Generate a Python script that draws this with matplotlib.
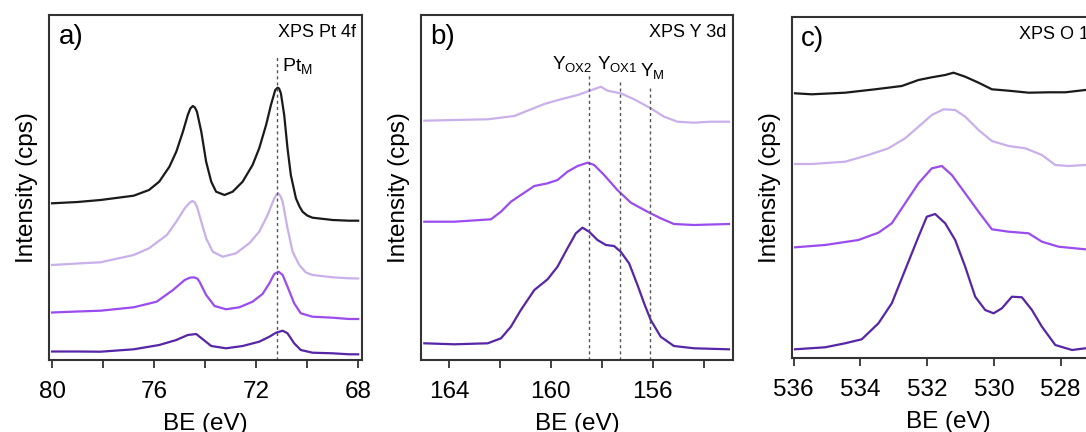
import matplotlib
matplotlib.use("Agg")
import matplotlib.pyplot as plt
from matplotlib.ticker import MultipleLocator

plt.rcParams['font.family'] = ['Liberation Sans', 'DejaVu Sans']
plt.rcParams['mathtext.fontset'] = 'custom'
plt.rcParams['mathtext.rm'] = 'Liberation Sans'

# colours of the four samples (top to bottom)
c_black = '#1a1a1a'
c_lav = '#c9b0ea'
c_med = '#9a4cee'
c_dark = '#5626a6'

# ---- a) Pt 4f ----
pt_black_x = [80, 79, 78.1, 76.8, 76.2, 75.8, 75.4, 75.13, 74.87, 74.68, 74.58, 74.48, 74.4, 74.32, 74.15, 73.96, 73.76, 73.57, 73.24, 72.92, 72.53, 72.14, 71.88, 71.61, 71.42, 71.25, 71.16, 71.1, 71.03, 70.9, 70.77, 70.64, 70.44, 70.3, 70.18, 70.0, 69.79, 69.0, 68.36, 68]
pt_black_y = [156.7, 158, 160, 164.3, 170, 178.3, 193.3, 208.3, 228.3, 245, 251.5, 254, 252.5, 248.3, 228.3, 198.3, 178.3, 168.3, 165, 168.3, 178.3, 195, 211.7, 235, 255, 270, 272.3, 271.5, 266.7, 245, 211.7, 185, 161.7, 153.5, 148.3, 144.5, 142.3, 140, 139.3, 139.3]

pt_lav_x = [80, 79, 78.1, 76.8, 76.2, 75.5, 75.13, 74.8, 74.6, 74.5, 74.4, 74.32, 74.15, 73.96, 73.7, 73.31, 72.79, 72.27, 71.88, 71.55, 71.29, 71.2, 71.13, 71.05, 70.96, 70.77, 70.57, 70.31, 70.05, 69.79, 69.0, 68.36, 68]
pt_lav_y = [95, 96.5, 97.7, 105, 111.7, 125, 138.3, 151.7, 157.5, 159, 157.5, 153.3, 138.3, 121.7, 108.3, 103.3, 106.7, 116.7, 128.3, 145, 161.7, 165.5, 166.7, 164, 158.3, 131.7, 108.3, 95, 87.5, 85, 82.7, 81.7, 81.5]

pt_med_x = [80, 79, 78.1, 76.8, 75.9, 75.26, 74.8, 74.6, 74.44, 74.3, 74.22, 73.96, 73.63, 73.18, 72.66, 72.14, 71.75, 71.48, 71.29, 71.12, 70.96, 70.77, 70.51, 70.25, 69.79, 69.0, 68.36, 68]
pt_med_y = [47.5, 48.5, 49.3, 52.7, 58.3, 70, 80, 82.3, 82.7, 81.3, 78.3, 65, 54, 50.7, 52.7, 58.3, 66, 76.7, 86, 88.3, 85, 73.3, 56.7, 46.7, 43.3, 42.3, 41, 41]

pt_dark_x = [80, 79, 78.1, 76.8, 75.8, 75.13, 74.68, 74.35, 74.09, 73.76, 73.18, 72.53, 71.88, 71.48, 71.22, 70.96, 70.77, 70.51, 70.25, 69.79, 69.0, 68.36, 68]
pt_dark_y = [8.5, 8.5, 8.3, 10.7, 15, 20, 25, 26, 20.7, 14, 11.7, 14, 18.3, 23.3, 27.3, 29.3, 26.7, 16.7, 10, 7.3, 6.7, 5.7, 5.7]

pt_ref = 71.2

# ---- b) Y 3d ----
y_lav_x = [164.97, 163.79, 162.48, 161.44, 160.78, 160.26, 159.61, 158.95, 158.5, 158.04, 157.78, 157.26, 156.73, 156.08, 155.56, 155.03, 154.38, 153.73, 153.01]
y_lav_y = [239.3, 240, 240.7, 244, 250.7, 256, 260.7, 265, 269, 273.3, 269.3, 266.7, 260.7, 251.7, 243.3, 238.3, 237.3, 238.3, 238.3]

y_med_x = [164.97, 163.79, 162.35, 161.96, 161.57, 161.18, 160.65, 160.13, 159.74, 159.35, 158.95, 158.56, 158.3, 157.91, 157.39, 156.86, 156.21, 155.69, 155.17, 154.38, 153.01]
y_med_y = [138.3, 138.3, 140.7, 148.3, 158.3, 165, 174, 176.7, 180, 188.3, 194, 197.3, 195, 185, 170, 157.3, 148.3, 141.7, 136, 135, 136]

y_dark_x = [164.97, 163.79, 162.48, 161.96, 161.57, 161.18, 160.65, 160.13, 159.74, 159.35, 159.02, 158.76, 158.5, 158.17, 157.84, 157.52, 157.26, 156.93, 156.6, 156.34, 156.08, 155.69, 155.17, 154.38, 153.01]
y_dark_y = [16.7, 15.7, 16.7, 21.7, 33.3, 50, 70, 80.7, 93.3, 111.7, 126.7, 132.3, 128.3, 120, 115, 114, 108.3, 96.7, 75, 56.7, 40, 23.3, 14, 11.7, 10.7]

y_refs = [158.52, 157.3, 156.1]

# ---- c) O 1s ----
o_black_x = [535.96, 535.46, 534.46, 533.56, 532.76, 532.26, 531.86, 531.46, 531.21, 530.86, 530.46, 530.06, 529.56, 528.96, 528.36, 527.86, 527.26]
o_black_y = [264.7, 263.7, 265.3, 268.7, 272, 278, 280.7, 283, 285.3, 281.3, 275.3, 268.7, 267.3, 265.3, 265.7, 265.7, 268]

o_lav_x = [535.96, 535.46, 534.46, 533.76, 533.16, 532.66, 532.26, 531.86, 531.51, 531.16, 530.86, 530.46, 530.06, 529.56, 529.06, 528.56, 528.16, 527.76, 527.26]
o_lav_y = [194, 194, 196.3, 203, 209.7, 219.7, 231.3, 243, 248.7, 248, 241.3, 228, 217, 212, 209.7, 203, 193, 192, 193]

o_med_x = [535.96, 535.06, 534.06, 533.46, 533.06, 532.66, 532.26, 531.86, 531.56, 531.26, 530.86, 530.46, 530.06, 529.56, 528.96, 528.56, 528.06, 527.26]
o_med_y = [110.7, 113, 118, 125.3, 134.7, 154.7, 174.7, 189.7, 192, 183, 164.7, 146.3, 128.7, 126.3, 124.7, 116.3, 111.3, 108.7]

o_dark_x = [535.96, 535.06, 534.46, 533.96, 533.46, 533.06, 532.66, 532.26, 532.01, 531.76, 531.46, 531.16, 530.86, 530.56, 530.26, 530.01, 529.76, 529.46, 529.16, 528.86, 528.56, 528.16, 527.66, 527.26]
o_dark_y = [8.7, 10.7, 14.7, 18.7, 34.7, 54.7, 88, 121.3, 141.3, 144, 134.7, 118, 91.3, 61.3, 48, 44.7, 49.7, 61.3, 60.7, 48, 31.3, 13, 8, 9.7]

W, H = 1086, 432
fig = plt.figure(figsize=(W / 100, H / 100), dpi=100)

def px_axes(left, top, right, bottom):
    return fig.add_axes([left / W, (H - bottom) / H, (right - left) / W, (bottom - top) / H])

ax_a = px_axes(49, 15, 362, 360)
ax_b = px_axes(421, 15, 733, 360)
ax_c = px_axes(792, 17, 1104, 358)

lw = 1.6
ax_a.plot(pt_black_x, pt_black_y, color=c_black, lw=lw)
ax_a.plot(pt_lav_x, pt_lav_y, color=c_lav, lw=lw)
ax_a.plot(pt_med_x, pt_med_y, color=c_med, lw=lw)
ax_a.plot(pt_dark_x, pt_dark_y, color=c_dark, lw=lw)

ax_b.plot(y_lav_x, y_lav_y, color=c_lav, lw=lw)
ax_b.plot(y_med_x, y_med_y, color=c_med, lw=lw)
ax_b.plot(y_dark_x, y_dark_y, color=c_dark, lw=lw)

ax_c.plot(o_black_x, o_black_y, color=c_black, lw=lw)
ax_c.plot(o_lav_x, o_lav_y, color=c_lav, lw=lw)
ax_c.plot(o_med_x, o_med_y, color=c_med, lw=lw)
ax_c.plot(o_dark_x, o_dark_y, color=c_dark, lw=lw)

ax_a.set_xlim(80.12, 67.85)
ax_b.set_xlim(165.1, 152.85)
ax_c.set_xlim(536.05, 526.7)
ax_a.set_ylim(0, 345)
ax_b.set_ylim(0, 345)
ax_c.set_ylim(0, 341)

ax_a.xaxis.set_major_locator(MultipleLocator(4))
ax_a.xaxis.set_minor_locator(MultipleLocator(2))
ax_b.xaxis.set_major_locator(MultipleLocator(4))
ax_b.xaxis.set_minor_locator(MultipleLocator(2))
ax_c.xaxis.set_major_locator(MultipleLocator(2))

dash = (0, (2.2, 2.2))
ax_a.axvline(pt_ref, ymin=0, ymax=0.88, color='#555555', lw=1, ls=dash)
ax_a.text(71.0, 0.835, r'Pt$_\mathregular{M}$', transform=ax_a.get_xaxis_transform(),
          fontsize=14, ha='left', va='baseline')

ax_b.axvline(y_refs[0], ymin=0, ymax=0.825, color='#555555', lw=1, ls=dash)
ax_b.axvline(y_refs[1], ymin=0, ymax=0.815, color='#555555', lw=1, ls=dash)
ax_b.axvline(y_refs[2], ymin=0, ymax=0.79, color='#555555', lw=1, ls=dash)
tr_b = ax_b.get_xaxis_transform()
ax_b.text(159.96, 0.841, r'Y$_\mathregular{OX2}$', transform=tr_b, fontsize=13.5, ha='left', va='baseline')
ax_b.text(158.2, 0.841, r'Y$_\mathregular{OX1}$', transform=tr_b, fontsize=13.5, ha='left', va='baseline')
ax_b.text(156.5, 0.82, r'Y$_\mathregular{M}$', transform=tr_b, fontsize=13.5, ha='left', va='baseline')

for ax, tag, title in [(ax_a, 'a)', 'XPS Pt 4f'), (ax_b, 'b)', 'XPS Y 3d'), (ax_c, 'c)', 'XPS O 1s')]:
    ax.set_yticks([])
    ax.set_ylabel('Intensity (cps)', fontsize=17.5, labelpad=8)
    ax.set_xlabel('BE (eV)', fontsize=17.5, labelpad=7)
    ax.tick_params(axis='x', which='both', direction='out', length=6, width=1.3,
                   color='#333333', labelsize=17.5, pad=9)
    for s in ax.spines.values():
        s.set_linewidth(1.5)
        s.set_color('#333333')
    ax.text(0.03, 0.975, tag, transform=ax.transAxes, fontsize=20, ha='left', va='top')
    ax.text(0.98, 0.95, title, transform=ax.transAxes, fontsize=13, ha='right', va='center')

fig.savefig('out.png', dpi=100)
